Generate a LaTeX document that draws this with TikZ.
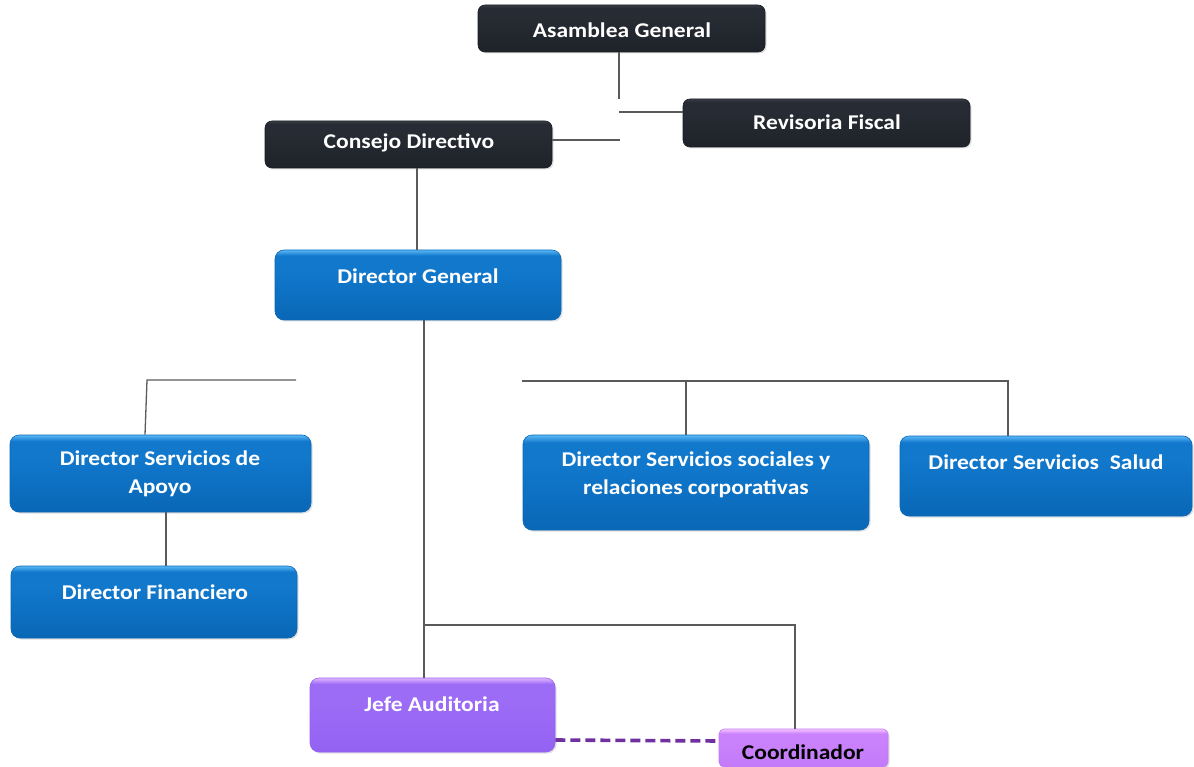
\documentclass[tikz,border=0pt]{standalone}
\usepackage{fontspec}
\setmainfont{Carlito}[FakeStretch=1.12]
\usetikzlibrary{shadows}
\definecolor{dk1}{HTML}{3A3F48}
\definecolor{dk2}{HTML}{272B33}
\definecolor{dk3}{HTML}{1E2229}
\definecolor{bl1}{HTML}{5AB8F6}
\definecolor{bl2}{HTML}{1178CC}
\definecolor{bl3}{HTML}{0967B6}
\definecolor{pu1}{HTML}{E2B6FF}
\definecolor{pu2}{HTML}{9D6CF6}
\definecolor{pu3}{HTML}{9462F2}
\definecolor{co1}{HTML}{F6C4FF}
\definecolor{co2}{HTML}{CA82FC}
\definecolor{co3}{HTML}{C27AF8}
\definecolor{lnc}{HTML}{5A5A5A}
\definecolor{dash}{HTML}{7030A0}
\pgfdeclareverticalshading{darkshade}{100bp}{color(0bp)=(dk3); color(25bp)=(dk3); color(62bp)=(dk2); color(72bp)=(dk2); color(75bp)=(dk1); color(100bp)=(dk1)}
\pgfdeclareverticalshading{blueshade}{100bp}{color(0bp)=(bl3); color(25bp)=(bl3); color(60bp)=(bl2); color(71bp)=(bl2); color(75bp)=(bl1); color(100bp)=(bl1)}
\pgfdeclareverticalshading{purpleshade}{100bp}{color(0bp)=(pu3); color(25bp)=(pu3); color(60bp)=(pu2); color(71bp)=(pu2); color(75bp)=(pu1); color(100bp)=(pu1)}
\pgfdeclareverticalshading{coordshade}{100bp}{color(0bp)=(co3); color(25bp)=(co3); color(60bp)=(co2); color(69bp)=(co2); color(75bp)=(co1); color(100bp)=(co1)}
\tikzset{
  box/.style={rounded corners=7pt, minimum width=#1, inner sep=0pt,
    drop shadow={opacity=0.25, shadow xshift=1.5pt, shadow yshift=-1.5pt}},
  darkbox/.style={box=#1, shading=darkshade, draw=dk3!80!black, line width=0.6pt},
  bluebox/.style={box=#1, rounded corners=9pt, shading=blueshade, draw=bl3, line width=0.6pt},
  purplebox/.style={box=#1, rounded corners=9pt, shading=purpleshade, draw=pu3, line width=0.6pt},
  coordbox/.style={box=#1, rounded corners=5pt, shading=coordshade, draw=co3, line width=0.6pt},
  txt/.style={text=white, font=\fontsize{21}{28}\selectfont\bfseries, align=center, inner sep=0pt},
  btxt/.style={text=black, font=\fontsize{21}{28}\selectfont\bfseries, align=center, inner sep=0pt},
  conn/.style={draw=lnc, line width=1.3pt},
  dashline/.style={draw=dash, line width=3.6pt, dash pattern=on 10pt off 5pt}
}
\begin{document}
\begin{tikzpicture}[x=1pt, y=-1pt]
\useasboundingbox (0,0) rectangle (1194,767);
% boxes
\node[darkbox=287pt, minimum height=47pt] (ag) at (621.5,28.5) {};
\node[darkbox=287pt, minimum height=48pt] (rf) at (826.5,123) {};
\node[darkbox=287pt, minimum height=47pt] (cd) at (408.5,144.5) {};
\node[bluebox=286pt, minimum height=70pt] (dg) at (418,285) {};
\node[bluebox=301pt, minimum height=77pt] (dsa) at (160.5,473.5) {};
\node[bluebox=286pt, minimum height=72pt] (df) at (154,602) {};
\node[bluebox=346pt, minimum height=95pt] (dss) at (696,482.5) {};
\node[bluebox=292pt, minimum height=80pt] (dsal) at (1046,476) {};
\node[purplebox=245pt, minimum height=74pt] (ja) at (432.5,715) {};
\node[coordbox=169pt, minimum height=38pt] (co) at (803.5,748) {};
% texts
\node[txt] (agt) at (622,30) {Asamblea General};
\node[txt] (rft) at (827,122) {Revisoria Fiscal};
\node[txt] (cdt) at (409,143) {Consejo Directivo};
\node[txt] (dgt) at (418,276) {Director General};
\node[txt] (dsat) at (160,474) {Director Servicios de\\Apoyo};
\node[txt] (dft) at (155,592) {Director Financiero};
\node[txt] (dsst) at (696,475) {Director Servicios sociales y\\relaciones corporativas};
\node[txt] (dsalt) at (1046,462) {Director Servicios\ \ Salud};
\node[txt] (jat) at (432,704) {Jefe Auditoria};
\node[btxt] (cot) at (803,752) {Coordinador};
% junction coordinates
\coordinate (j1) at (619,99);
\coordinate (j2) at (619,112);
\coordinate (j3) at (620,140);
\coordinate (j4) at (424,625);
\coordinate (j5) at (795,625);
\coordinate (l1) at (147,380);
\coordinate (l2) at (296,380);
\coordinate (r1) at (522,381);
\coordinate (r2) at (686,381);
\coordinate (r3) at (1008,381);
% connectors
\draw[conn] (ag.south -| j1) -- (j1);
\draw[conn] (j2) -- (j2 -| rf.west);
\draw[conn] (cd.east |- j3) -- (j3);
\draw[conn] (cd.south -| 417,0) -- (dg.north -| 417,0);
\draw[conn] (dg.south -| j4) -- (ja.north -| j4);
\draw[conn] (j4) -- (j5) -- (co.north -| j5);
\draw[conn] (l2) -- (l1) -- (dsa.north -| 145,0);
\draw[conn] (r1) -- (r3) -- (dsal.north -| r3);
\draw[conn] (r2) -- (dss.north -| r2);
\draw[conn] (dsa.south -| 166,0) -- (df.north -| 166,0);
\draw[dashline] (ja.east |- 0,740) -- (co.west |- 0,741);
\end{tikzpicture}
\end{document}
